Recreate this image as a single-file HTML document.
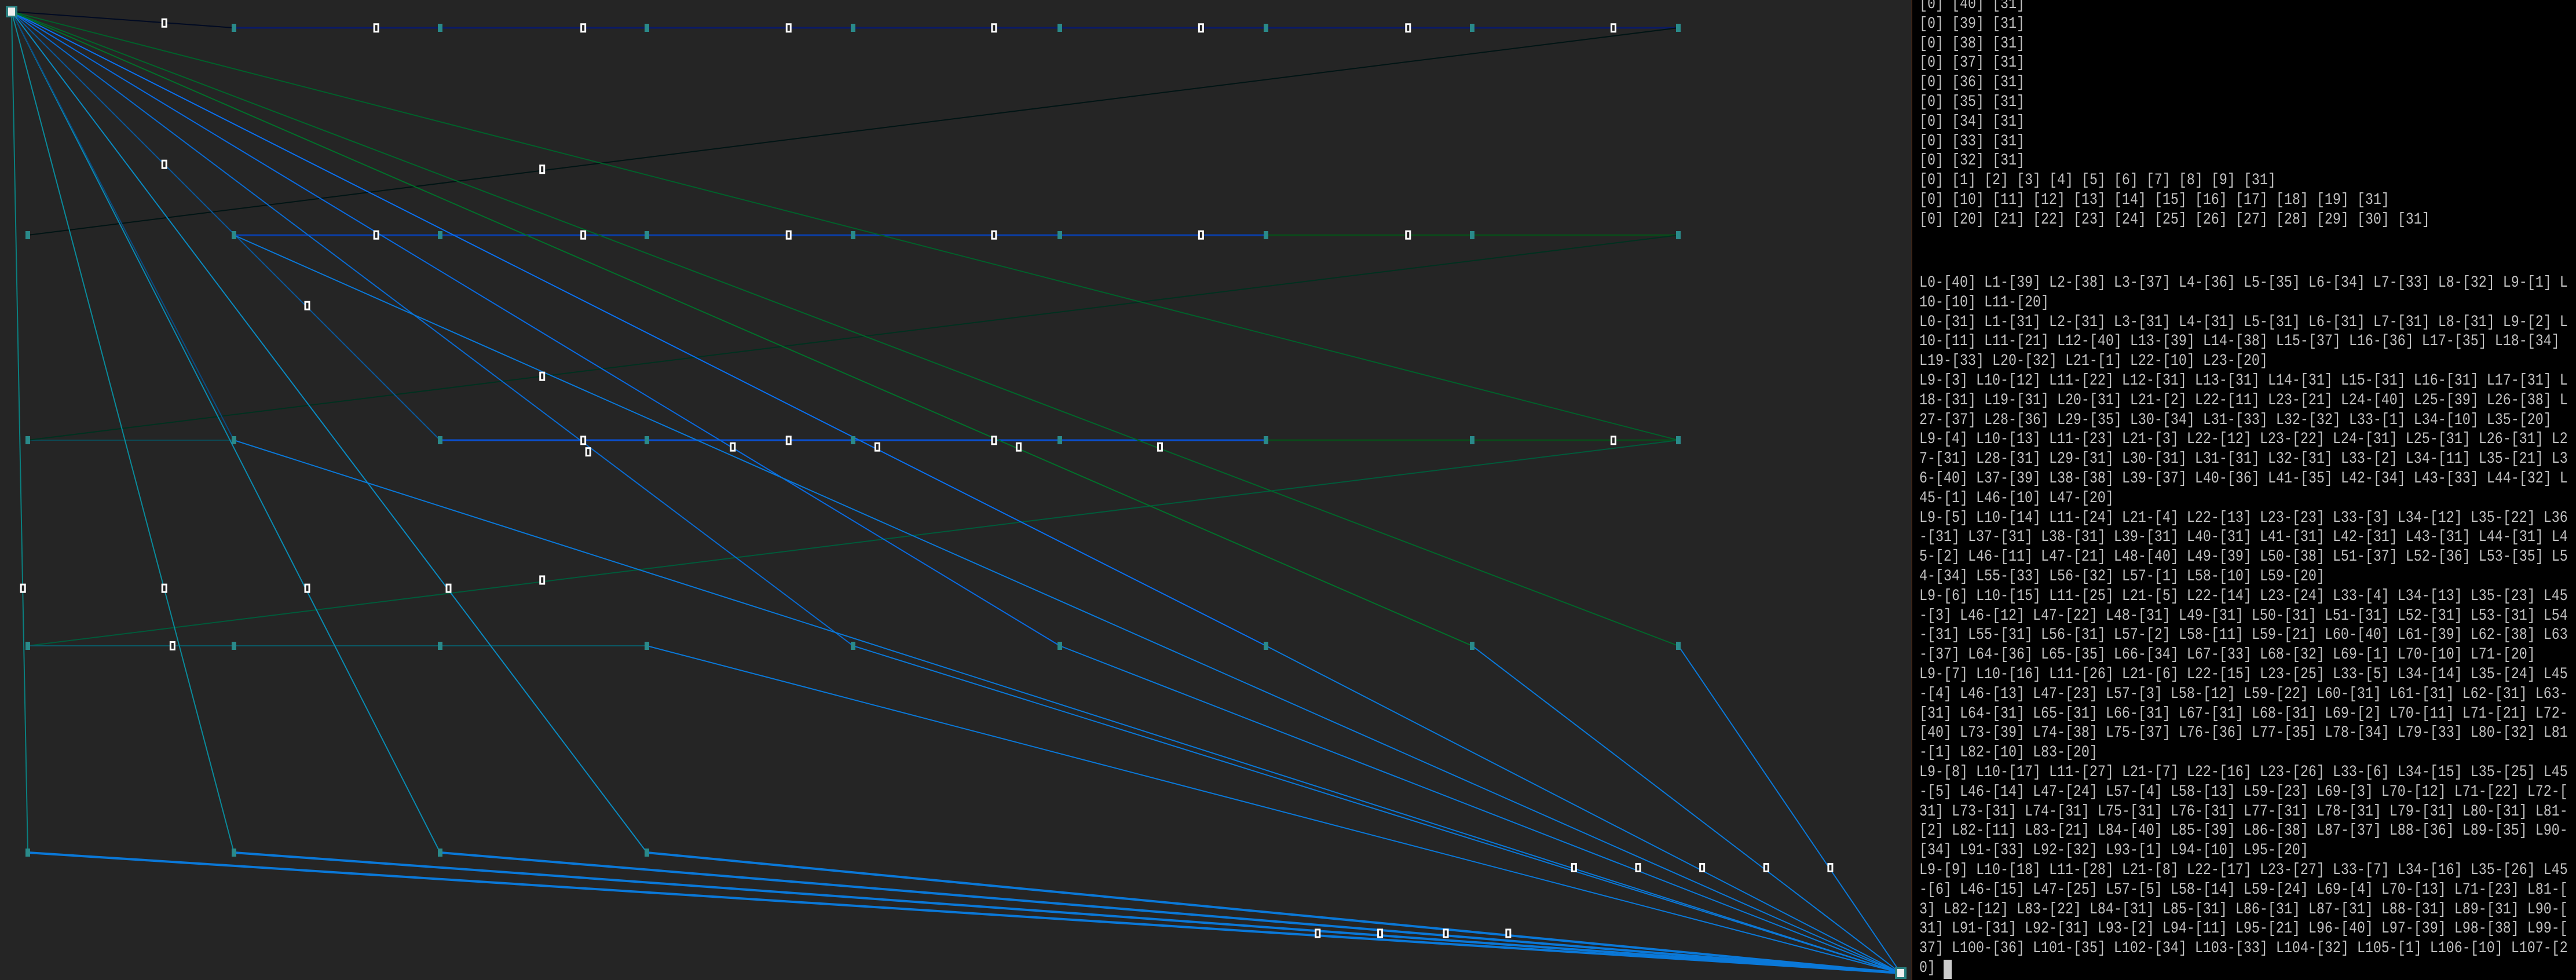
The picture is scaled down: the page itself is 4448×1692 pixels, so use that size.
<!DOCTYPE html>
<html><head><meta charset="utf-8">
<style>
html,body{margin:0;padding:0;width:4448px;height:1692px;overflow:hidden;background:#252525;}
#graph{position:absolute;left:0;top:0;}
#term{position:absolute;left:3300px;top:0;width:1148px;height:1692px;background:#000;border-left:2px solid #3a2418;box-sizing:border-box;overflow:hidden;}
.blk{position:absolute;left:12px;margin:0;font-family:"Liberation Mono",monospace;font-size:28px;line-height:33.8px;color:#c0c0c0;white-space:pre;transform:scaleX(0.833);transform-origin:0 0;}
#cursor{position:absolute;left:54px;top:1657px;width:14px;height:33px;background:#cccccc;}
</style></head>
<body>
<svg id="graph" width="3300" height="1692" xmlns="http://www.w3.org/2000/svg"></svg>
<div id="term">
<pre class="blk" style="top:-9px">[0] [40] [31]
[0] [39] [31]
[0] [38] [31]
[0] [37] [31]
[0] [36] [31]
[0] [35] [31]
[0] [34] [31]
[0] [33] [31]
[0] [32] [31]
[0] [1] [2] [3] [4] [5] [6] [7] [8] [9] [31]
[0] [10] [11] [12] [13] [14] [15] [16] [17] [18] [19] [31]
[0] [20] [21] [22] [23] [24] [25] [26] [27] [28] [29] [30] [31]</pre>
<pre class="blk" style="top:472px">L0-[40] L1-[39] L2-[38] L3-[37] L4-[36] L5-[35] L6-[34] L7-[33] L8-[32] L9-[1] L
10-[10] L11-[20]
L0-[31] L1-[31] L2-[31] L3-[31] L4-[31] L5-[31] L6-[31] L7-[31] L8-[31] L9-[2] L
10-[11] L11-[21] L12-[40] L13-[39] L14-[38] L15-[37] L16-[36] L17-[35] L18-[34]
L19-[33] L20-[32] L21-[1] L22-[10] L23-[20]
L9-[3] L10-[12] L11-[22] L12-[31] L13-[31] L14-[31] L15-[31] L16-[31] L17-[31] L
18-[31] L19-[31] L20-[31] L21-[2] L22-[11] L23-[21] L24-[40] L25-[39] L26-[38] L
27-[37] L28-[36] L29-[35] L30-[34] L31-[33] L32-[32] L33-[1] L34-[10] L35-[20]
L9-[4] L10-[13] L11-[23] L21-[3] L22-[12] L23-[22] L24-[31] L25-[31] L26-[31] L2
7-[31] L28-[31] L29-[31] L30-[31] L31-[31] L32-[31] L33-[2] L34-[11] L35-[21] L3
6-[40] L37-[39] L38-[38] L39-[37] L40-[36] L41-[35] L42-[34] L43-[33] L44-[32] L
45-[1] L46-[10] L47-[20]
L9-[5] L10-[14] L11-[24] L21-[4] L22-[13] L23-[23] L33-[3] L34-[12] L35-[22] L36
-[31] L37-[31] L38-[31] L39-[31] L40-[31] L41-[31] L42-[31] L43-[31] L44-[31] L4
5-[2] L46-[11] L47-[21] L48-[40] L49-[39] L50-[38] L51-[37] L52-[36] L53-[35] L5
4-[34] L55-[33] L56-[32] L57-[1] L58-[10] L59-[20]
L9-[6] L10-[15] L11-[25] L21-[5] L22-[14] L23-[24] L33-[4] L34-[13] L35-[23] L45
-[3] L46-[12] L47-[22] L48-[31] L49-[31] L50-[31] L51-[31] L52-[31] L53-[31] L54
-[31] L55-[31] L56-[31] L57-[2] L58-[11] L59-[21] L60-[40] L61-[39] L62-[38] L63
-[37] L64-[36] L65-[35] L66-[34] L67-[33] L68-[32] L69-[1] L70-[10] L71-[20]
L9-[7] L10-[16] L11-[26] L21-[6] L22-[15] L23-[25] L33-[5] L34-[14] L35-[24] L45
-[4] L46-[13] L47-[23] L57-[3] L58-[12] L59-[22] L60-[31] L61-[31] L62-[31] L63-
[31] L64-[31] L65-[31] L66-[31] L67-[31] L68-[31] L69-[2] L70-[11] L71-[21] L72-
[40] L73-[39] L74-[38] L75-[37] L76-[36] L77-[35] L78-[34] L79-[33] L80-[32] L81
-[1] L82-[10] L83-[20]
L9-[8] L10-[17] L11-[27] L21-[7] L22-[16] L23-[26] L33-[6] L34-[15] L35-[25] L45
-[5] L46-[14] L47-[24] L57-[4] L58-[13] L59-[23] L69-[3] L70-[12] L71-[22] L72-[
31] L73-[31] L74-[31] L75-[31] L76-[31] L77-[31] L78-[31] L79-[31] L80-[31] L81-
[2] L82-[11] L83-[21] L84-[40] L85-[39] L86-[38] L87-[37] L88-[36] L89-[35] L90-
[34] L91-[33] L92-[32] L93-[1] L94-[10] L95-[20]
L9-[9] L10-[18] L11-[28] L21-[8] L22-[17] L23-[27] L33-[7] L34-[16] L35-[26] L45
-[6] L46-[15] L47-[25] L57-[5] L58-[14] L59-[24] L69-[4] L70-[13] L71-[23] L81-[
3] L82-[12] L83-[22] L84-[31] L85-[31] L86-[31] L87-[31] L88-[31] L89-[31] L90-[
31] L91-[31] L92-[31] L93-[2] L94-[11] L95-[21] L96-[40] L97-[39] L98-[38] L99-[
37] L100-[36] L101-[35] L102-[34] L103-[33] L104-[32] L105-[1] L106-[10] L107-[2
0]</pre>
<div id="cursor"></div>
</div>
<script>
const colX = [48,404,760,1117,1473,1830,2186,2542,2898];
const rowY = [48,406,760,1115,1472];
const gridNodes = [
 [0,1],[0,2],[0,3],[0,4],[0,5],[0,6],[0,7],[0,8],
 [1,0],[1,1],[1,2],[1,3],[1,4],[1,5],[1,6],[1,7],[1,8],
 [2,0],[2,1],[2,2],[2,3],[2,4],[2,5],[2,6],[2,7],[2,8],
 [3,0],[3,1],[3,2],[3,3],[3,4],[3,5],[3,6],[3,7],[3,8],
 [4,0],[4,1],[4,2],[4,3]
];
const edgeList = [
 ["R","R",0,1,"#000a22",2],["0","1",0,8,"#0a1a66",3],
 ["1","0",0,8,"#001414",2],["1","1",1,6,"#0a3ea8",3],["1","6",1,8,"#0a4a1a",3],
 ["2","0",2,1,"#0b4a55",2],["2","2",2,6,"#0a4fd0",3],["2","6",2,8,"#0a4a1a",3],
 ["2","0",1,8,"#00301f",2],["3","0",2,8,"#005a3a",2],["3","0",3,3,"#0b5a66",2],
 ["R","R",4,0,"#0a8080",2],["R","R",4,1,"#0a8a9a",2],["R","R",4,2,"#0a8ab0",2],["R","R",4,3,"#0a8ac0",2],
 ["R","R",2,1,"#0a4a80",2],["R","R",2,2,"#0a5aa0",2],
 ["R","R",3,4,"#0a6ad0",2],["R","R",3,5,"#0a6ae0",2],["R","R",3,6,"#0a70f0",2],
 ["R","R",3,7,"#00702a",2],["R","R",3,8,"#00662a",2],["R","R",2,8,"#00602a",2],
 ["1","1","S","S","#0a78d8",2],["2","1","S","S","#0a78d8",2],["3","3","S","S","#0a78d8",2],
 ["3","4","S","S","#0a78d8",2],["3","5","S","S","#0a78d8",2],["3","6","S","S","#0a78d8",2],
 ["3","7","S","S","#0a78d8",2],["3","8","S","S","#0a78d8",2],
 ["4","0","S","S","#0a78d8",4],["4","1","S","S","#0a78d8",4],["4","2","S","S","#0a78d8",4],["4","3","S","S","#0a78d8",4]
];
const labelPts = [
 [100,14],[229,17],[355,17],[480,17],[605,17],[731,17],[857,17],[982,17],[100,100],[330,103],
 [229,143],[355,143],[480,143],[605,143],[731,143],[857,143],[187,186],[330,229],
 [355,268],[358,275],[446,272],[480,268],[534,272],[605,268],[620,272],[706,272],[982,268],
 [14,358],[100,358],[187,358],[273,358],[330,353],[105,393],
 [958,528],[997,528],[1036,528],[1075,528],[1114,528],[802,568],[840,568],[880,568],[918,568]
];
const K = 2.837;
const root = [20,20], sink = [3282,1680];
const svg = document.getElementById('graph');
const NS = 'http://www.w3.org/2000/svg';
function pt(r,c){ if(r==="R") return root; if(r==="S") return sink; return [colX[+c], rowY[+r]]; }
edgeList.forEach(e=>{
  const a = pt(e[0],e[1]), b = pt(e[2],e[3]);
  const l = document.createElementNS(NS,'line');
  
  
  l.setAttribute('x1',a[0]); l.setAttribute('y1',a[1]);
  l.setAttribute('x2',b[0]); l.setAttribute('y2',b[1]);
  l.setAttribute('stroke',e[4]); l.setAttribute('stroke-width',e[5]);
  svg.appendChild(l);
});
labelPts.forEach(p=>{
  const r = document.createElementNS(NS,'rect');
  
  
  r.setAttribute('x',p[0]*K-5); r.setAttribute('y',p[1]*K-8);
  r.setAttribute('width',10); r.setAttribute('height',16);
  r.setAttribute('fill','#ffffff');
  svg.appendChild(r);
  const t = document.createElementNS(NS,'rect');
  t.setAttribute('x',p[0]*K-2); t.setAttribute('y',p[1]*K-5);
  t.setAttribute('width',4); t.setAttribute('height',10);
  t.setAttribute('fill','#222');
  svg.appendChild(t);
});
gridNodes.forEach(n=>{
  const p = pt(n[0],n[1]);
  const r = document.createElementNS(NS,'rect');
  
  
  r.setAttribute('x',p[0]-4); r.setAttribute('y',p[1]-7);
  r.setAttribute('width',8); r.setAttribute('height',14);
  r.setAttribute('fill','#2a8a8a');
  svg.appendChild(r);
});
[root,sink].forEach((p,i)=>{
  const r = document.createElementNS(NS,'rect');
  
  
  r.setAttribute('x',p[0]-10); r.setAttribute('y',p[1]-10);
  r.setAttribute('width',20); r.setAttribute('height',20);
  r.setAttribute('fill','#2a8080');
  svg.appendChild(r);
  const w = document.createElementNS(NS,'rect');
  w.setAttribute('x',p[0]-6); w.setAttribute('y',p[1]-7);
  w.setAttribute('width',12); w.setAttribute('height',14);
  w.setAttribute('fill','#eeeeee');
  svg.appendChild(w);
});
</script>
</body></html>
